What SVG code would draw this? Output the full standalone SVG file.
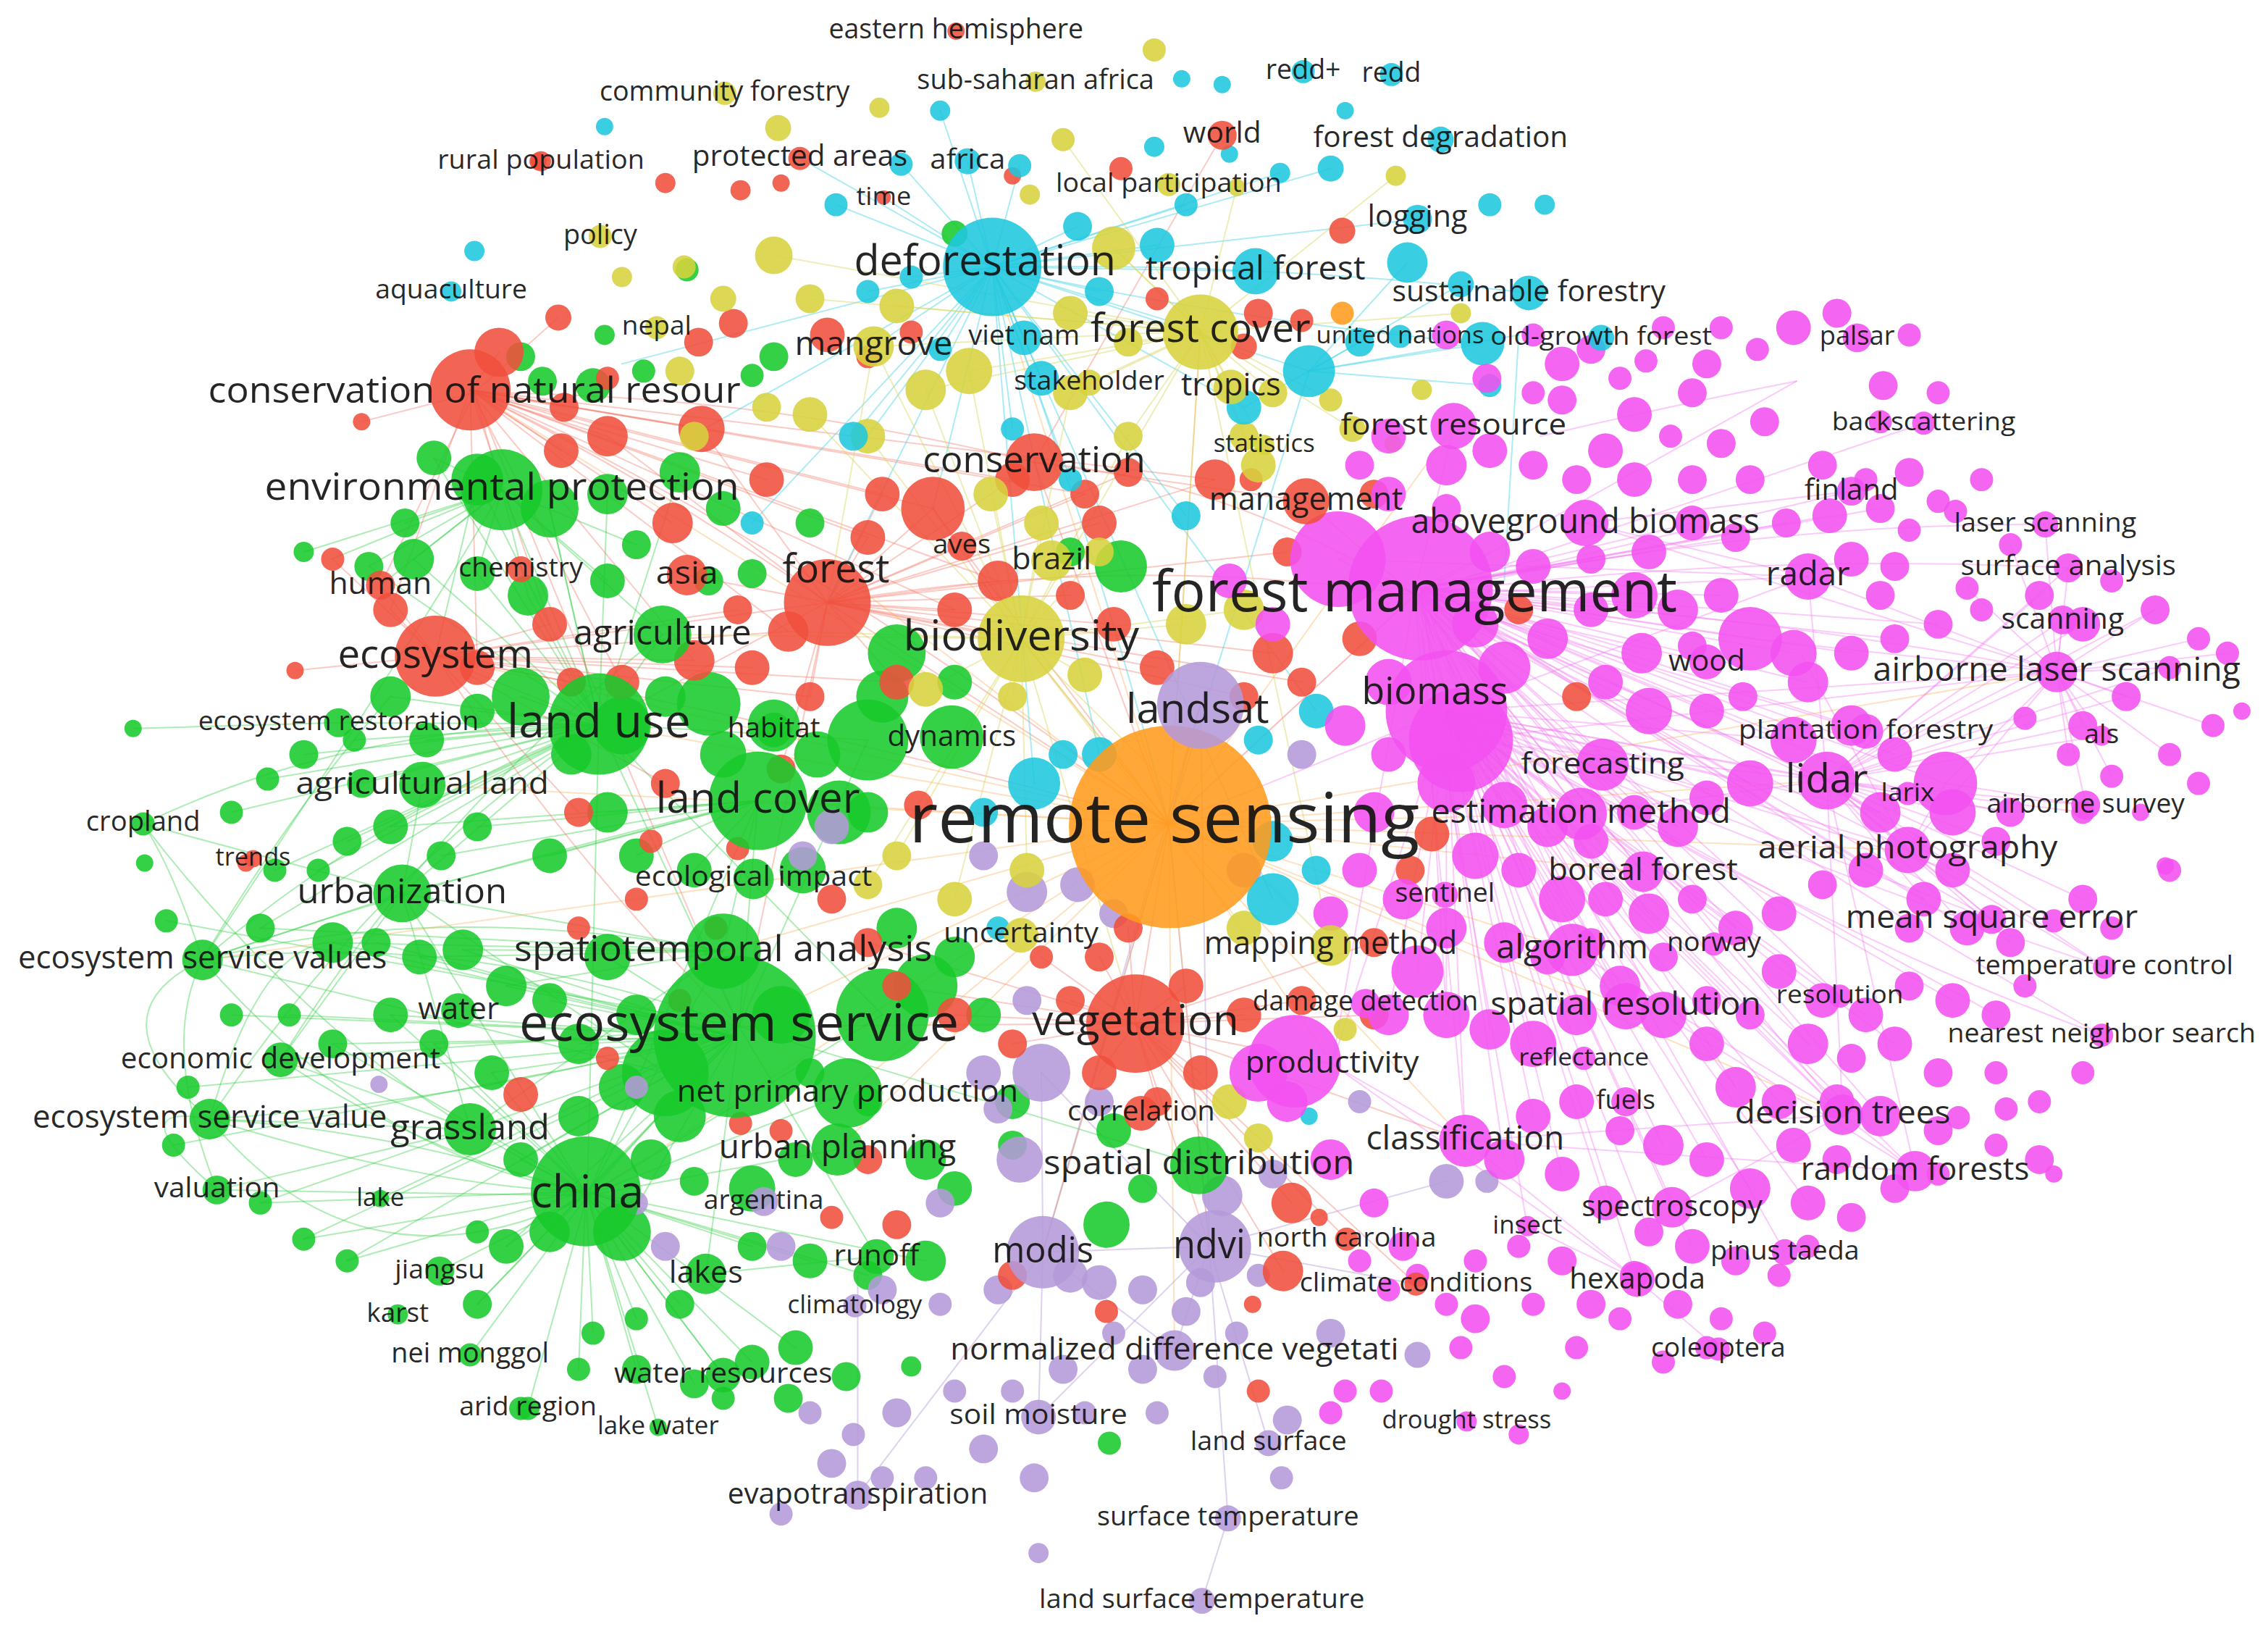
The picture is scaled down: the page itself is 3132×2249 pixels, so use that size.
<svg xmlns="http://www.w3.org/2000/svg" width="3132" height="2249" viewBox="0 0 3132 2249">
<style>
.lb{font-family:"Open Sans","Liberation Sans",sans-serif;fill:#121212;fill-opacity:.92;text-anchor:middle}
.r{fill:#f04e3c}.g{fill:#18c92b}.y{fill:#d7d33e}.c{fill:#1ec7de}.m{fill:#f251ef}.p{fill:#b49ad9}.o{fill:#ff9b1c}
circle{fill-opacity:.88}
</style>
<rect width="3132" height="2249" fill="#fff"/>
<g transform="scale(1.9974) translate(0 1.5)">
<g id="connectors" fill="none" stroke-linecap="round" stroke-width="1">
<g id="conn-green" stroke="#35cf45" stroke-opacity=".4">
<path d="M511 708Q320 640 140 662"/><path d="M511 708Q330 760 145 772"/><path d="M511 708L194 731"/><path d="M406 825Q280 780 145 772"/><path d="M406 825L150 821"/><path d="M406 825L304 877"/><path d="M406 825L325 935"/><path d="M406 825L365 972"/><path d="M406 825L500 949"/><path d="M406 825L455 985"/><path d="M414 499Q240 500 99 568"/><path d="M414 499L234 498"/><path d="M414 499L292 541"/><path d="M414 499Q260 560 140 662"/><path d="M278 616L140 662"/><path d="M278 616L99 568"/><path d="M278 616L194 731"/><path d="M325 779L145 772"/><path d="M325 779L150 821"/><path d="M500 656Q300 620 140 662"/><path d="M500 656L278 616"/><path d="M347 337L263 403"/><path d="M347 337L229 385"/><path d="M511 708L406 825"/><path d="M511 708L414 499"/><path d="M414 499L406 825"/><path d="M406 825L524 552"/><path d="M511 708L606 867"/><path d="M511 708L488 879"/><path d="M524 552L278 616"/><path d="M524 552Q320 600 140 662"/><path d="M406 825L325 779"/><path d="M325 779L194 731"/><path d="M511 708L263 827"/><path d="M414 499L347 337"/><path d="M511 708L115 635"/><path d="M140 662Q120 600 99 568"/><path d="M145 772Q60 700 140 662"/><path d="M150 821Q80 760 145 772"/><path d="M500 656L325 779"/><path d="M500 656L406 825"/><path d="M458 437L414 499"/><path d="M458 437L347 337"/><path d="M524 552L511 708"/><path d="M524 552L500 656"/><path d="M278 616L325 779"/><path d="M278 616L406 825"/><path d="M292 541L278 616"/><path d="M414 499L278 616"/><path d="M511 708L829 804"/><path d="M586 754L406 825"/><path d="M579 793L406 825"/><path d="M488 879L606 867"/><path d="M500 949L406 825"/><path d="M600 510L414 499"/><path d="M600 510L511 708"/><path d="M610 700L406 825"/><path d="M610 700L414 499"/><path d="M460 740L278 616"/><path d="M460 740L140 662"/><path d="M380 350L414 499"/><path d="M330 330L301 452"/><path d="M234 498L92 502"/><path d="M145 772Q260 600 414 499"/><path d="M194 731Q300 560 458 437"/><path d="M140 662Q300 420 347 337"/><path d="M145 772Q250 900 406 825"/>
<path d="M508 715L230 650"/><path d="M508 715L260 650"/><path d="M508 715L290 660"/><path d="M508 715L320 655"/><path d="M508 715L350 680"/><path d="M508 715L270 700"/><path d="M508 715L230 720"/><path d="M508 715L200 700"/><path d="M508 715L160 700"/><path d="M508 715L130 750"/><path d="M508 715L120 790"/><path d="M508 715L180 830"/><path d="M508 715L210 855"/><path d="M508 715L240 870"/><path d="M508 715L330 900"/><path d="M508 715L350 860"/><path d="M508 715L380 850"/><path d="M508 715L430 850"/><path d="M508 715L360 800"/><path d="M508 715L340 740"/><path d="M508 715L300 720"/><path d="M508 715L420 660"/><path d="M508 715L380 690"/><path d="M508 715L440 700"/><path d="M508 715L400 720"/>
<path d="M405 822L230 720"/><path d="M405 822L270 700"/><path d="M405 822L300 720"/><path d="M405 822L340 740"/><path d="M405 822L360 800"/><path d="M405 822L330 900"/><path d="M405 822L350 860"/><path d="M405 822L240 870"/><path d="M405 822L210 855"/><path d="M405 822L180 830"/><path d="M405 822L440 910"/><path d="M405 822L410 920"/><path d="M405 822L400 945"/><path d="M405 822L440 945"/><path d="M405 822L480 955"/><path d="M405 822L520 940"/><path d="M405 822L470 900"/><path d="M405 822L520 860"/><path d="M405 822L560 870"/><path d="M405 822L600 880"/><path d="M405 822L640 870"/><path d="M405 822L550 930"/>
<path d="M414 499L270 480"/><path d="M414 499L245 510"/><path d="M414 499L250 540"/><path d="M414 499L295 510"/><path d="M414 499L330 490"/><path d="M414 499L360 480"/><path d="M414 499L270 570"/><path d="M414 499L240 580"/><path d="M414 499L210 520"/><path d="M414 499L185 537"/><path d="M414 499L160 560"/><path d="M414 499L220 600"/><path d="M414 499L190 600"/><path d="M414 499L180 640"/><path d="M414 499L300 315"/><path d="M414 499L330 330"/><path d="M414 499L380 350"/><path d="M414 499L420 340"/><path d="M414 499L470 325"/><path d="M414 499L286 385"/><path d="M414 499L255 390"/><path d="M414 499L330 395"/><path d="M414 499L365 410"/>
<path d="M524 552L380 590"/><path d="M524 552L330 570"/><path d="M524 552L305 590"/><path d="M524 552L270 570"/><path d="M524 552L440 590"/><path d="M524 552L480 600"/><path d="M524 552L420 560"/>
<path d="M347 337L300 315"/><path d="M347 337L280 360"/><path d="M347 337L255 390"/><path d="M347 337L286 385"/><path d="M347 337L330 395"/><path d="M347 337L365 410"/><path d="M347 337L420 400"/><path d="M347 337L440 375"/><path d="M347 337L210 380"/>
<path d="M500 656L230 650"/><path d="M500 656L290 660"/><path d="M500 656L320 655"/><path d="M500 656L350 680"/><path d="M500 656L180 640"/>
<path d="M140 662Q200 560 270 480"/><path d="M145 772Q180 650 230 650"/><path d="M150 821Q110 720 140 662"/><path d="M99 568Q200 700 325 779"/><path d="M140 662Q260 800 405 822"/><path d="M145 772Q300 820 405 822"/><path d="M194 731Q300 800 405 822"/>
</g>
<g id="conn-red" stroke="#f06a58" stroke-opacity=".35">
<path d="M328 270Q450 330 572 415"/><path d="M328 270Q520 270 715 318"/><path d="M328 270Q560 380 808 568"/><path d="M328 270L263 403"/><path d="M328 270L420 300"/><path d="M328 270L645 350"/><path d="M328 270Q420 500 511 708"/><path d="M301 452Q400 600 511 708"/><path d="M301 452Q560 500 808 568"/><path d="M301 452L572 415"/><path d="M301 452L204 462"/><path d="M301 452L263 403"/><path d="M572 415L808 568"/><path d="M572 415Q780 380 978 410"/><path d="M715 318L808 568"/><path d="M715 318Q850 330 978 410"/><path d="M785 706L808 568"/><path d="M785 706L921 734"/><path d="M785 706L836 860"/><path d="M785 706L1013 787"/><path d="M572 415L706 440"/><path d="M328 270L250 290"/><path d="M301 452L230 385"/><path d="M328 270L386 218"/><path d="M715 318L845 92"/><path d="M715 318L903 345"/><path d="M785 706L931 855"/><path d="M785 706L979 886"/><path d="M645 350L572 415"/><path d="M645 350L808 568"/><path d="M475 396L572 415"/><path d="M485 295L572 415"/><path d="M420 300L572 415"/><path d="M785 706L511 708"/><path d="M572 415L414 499"/><path d="M572 415L511 708"/><path d="M328 270L347 337"/><path d="M301 452L414 499"/><path d="M645 350L706 440"/><path d="M903 345L978 410"/>
<path d="M325 268L345 242"/><path d="M325 268L390 280"/><path d="M325 268L388 310"/><path d="M325 268L485 295"/><path d="M325 268L530 330"/><path d="M325 268L465 360"/><path d="M325 268L270 420"/><path d="M325 268L330 460"/><path d="M325 268L380 430"/><path d="M325 268L430 470"/><path d="M325 268L480 455"/><path d="M325 268L545 435"/><path d="M325 268L600 370"/><path d="M325 268L610 340"/><path d="M325 268L700 330"/><path d="M325 268L750 340"/><path d="M325 268L840 330"/><path d="M325 268L660 420"/><path d="M325 268L690 400"/>
<path d="M301 452L270 420"/><path d="M301 452L330 460"/><path d="M301 452L380 430"/><path d="M301 452L395 470"/><path d="M301 452L430 470"/><path d="M301 452L480 455"/><path d="M301 452L510 420"/><path d="M301 452L520 460"/><path d="M301 452L545 435"/><path d="M301 452L560 480"/><path d="M301 452L620 470"/><path d="M301 452L400 560"/><path d="M301 452L460 540"/>
<path d="M572 415L600 370"/><path d="M572 415L610 340"/><path d="M572 415L660 420"/><path d="M572 415L690 400"/><path d="M572 415L740 410"/><path d="M572 415L770 430"/><path d="M572 415L800 460"/><path d="M572 415L880 450"/><path d="M572 415L900 470"/><path d="M572 415L860 480"/><path d="M572 415L620 470"/><path d="M572 415L560 480"/><path d="M572 415L540 530"/><path d="M572 415L760 360"/><path d="M572 415L700 330"/><path d="M572 415L750 340"/><path d="M572 415L780 325"/><path d="M572 415L840 330"/><path d="M572 415L890 380"/>
<path d="M785 706L760 740"/><path d="M785 706L800 760"/><path d="M785 706L830 740"/><path d="M785 706L760 660"/><path d="M785 706L720 660"/><path d="M785 706L740 690"/><path d="M785 706L700 720"/><path d="M785 706L660 700"/><path d="M785 706L620 680"/><path d="M785 706L600 650"/><path d="M785 706L860 700"/><path d="M785 706L900 690"/><path d="M785 706L950 700"/><path d="M785 706L950 650"/><path d="M785 706L893 830"/><path d="M785 706L887 877"/><path d="M785 706L820 680"/><path d="M785 706L780 640"/>
</g>
<g id="conn-cyan" stroke="#48d3e6" stroke-opacity=".45">
<path d="M686 183L600 300"/><path d="M686 183L520 360"/><path d="M686 183L700 295"/><path d="M686 183L740 330"/><path d="M686 183Q760 380 808 568"/><path d="M686 183L905 255"/><path d="M686 183Q850 220 1025 236"/><path d="M686 183Q870 180 1057 201"/><path d="M686 183L980 150"/><path d="M686 183L669 110"/><path d="M686 183L611 135"/><path d="M686 183L820 355"/><path d="M686 183L715 540"/><path d="M686 183L880 620"/><path d="M686 183L478 300"/><path d="M686 183L430 250"/><path d="M905 255L1050 230"/><path d="M905 255L973 180"/><path d="M686 183L868 186"/><path d="M686 183L760 520"/><path d="M686 183L910 490"/><path d="M686 183L590 300"/><path d="M686 183L645 350"/><path d="M686 183L572 415"/><path d="M686 183L830 227"/><path d="M1050 230L1040 400"/><path d="M686 183L553 108"/><path d="M905 255L808 568"/><path d="M686 183L708 232"/><path d="M686 183L604 238"/>
<path d="M686 183L745 155"/><path d="M686 183L800 168"/><path d="M686 183L820 140"/><path d="M686 183L705 113"/><path d="M686 183L623 112"/><path d="M686 183L578 140"/><path d="M686 183L650 75"/><path d="M686 183L760 200"/><path d="M686 183L720 260"/><path d="M686 183L650 240"/><path d="M686 183L600 200"/><path d="M686 183L630 190"/><path d="M686 183L860 280"/><path d="M686 183L920 115"/><path d="M686 183L885 118"/><path d="M905 255L1025 236"/><path d="M905 255L1030 265"/><path d="M905 255L940 235"/><path d="M905 255L860 280"/><path d="M905 255L1010 195"/>
</g>
<g id="conn-yellow" stroke="#dad664" stroke-opacity=".45">
<path d="M830 227L808 568"/><path d="M830 227L706 440"/><path d="M830 227L851 266"/><path d="M830 227L753 263"/><path d="M830 227L604 238"/><path d="M830 227L874 306"/><path d="M706 440L808 568"/><path d="M706 440L604 238"/><path d="M706 440L920 652"/><path d="M830 227L735 95"/><path d="M830 227L920 652"/><path d="M706 440L545 435"/><path d="M604 238L572 415"/><path d="M770 170L830 227"/><path d="M706 440L458 437"/><path d="M706 440L785 706"/>
<path d="M706 440L685 340"/><path d="M706 440L720 360"/><path d="M706 440L760 380"/><path d="M706 440L820 430"/><path d="M706 440L700 480"/><path d="M706 440L750 465"/><path d="M706 440L640 475"/><path d="M706 440L600 610"/><path d="M706 440L660 620"/><path d="M706 440L710 600"/><path d="M706 440L620 590"/><path d="M706 440L860 640"/><path d="M706 440L860 420"/><path d="M706 440L600 300"/><path d="M706 440L560 285"/><path d="M706 440L640 268"/><path d="M706 440L670 255"/><path d="M706 440L740 270"/><path d="M706 440L780 300"/>
<path d="M830 228L740 215"/><path d="M830 228L780 235"/><path d="M830 228L740 270"/><path d="M830 228L780 300"/><path d="M830 228L870 320"/><path d="M830 228L860 300"/><path d="M830 228L935 295"/><path d="M830 228L920 275"/><path d="M830 228L880 270"/><path d="M830 228L770 170"/><path d="M830 228L620 210"/><path d="M830 228L670 255"/><path d="M830 228L640 268"/><path d="M830 228L560 205"/><path d="M830 228L535 175"/><path d="M830 228L855 128"/><path d="M830 228L965 120"/><path d="M830 228L1010 215"/>
</g>
<g id="conn-magenta" stroke="#f37cef" stroke-opacity=".4">
<path d="M978 410L1250 397"/><path d="M978 410Q1200 420 1422 463"/><path d="M978 410Q1200 380 1430 391"/><path d="M978 410Q1200 360 1414 361"/><path d="M978 410L1280 338"/><path d="M978 410L1242 262"/><path d="M978 410L1330 291"/><path d="M978 410L1005 293"/><path d="M978 410L1263 538"/><path d="M978 410L1319 586"/><path d="M978 410L1377 634"/><path d="M978 410L1274 769"/><path d="M978 410L1013 787"/><path d="M978 410L921 734"/><path d="M978 410L808 568"/><path d="M978 410L1093 561"/><path d="M978 410L1136 601"/><path d="M978 410L1087 655"/><path d="M978 410L1124 694"/><path d="M978 410L1180 456"/><path d="M978 410L1290 504"/><path d="M978 410L1108 527"/><path d="M1000 490L1263 538"/><path d="M1000 490L1422 463"/><path d="M1000 490L1319 586"/><path d="M1000 490L1377 634"/><path d="M1000 490Q1250 600 1455 667"/><path d="M1000 490Q1250 640 1453 714"/><path d="M1000 490L1274 769"/><path d="M1000 490L1324 808"/><path d="M1000 490L1156 833"/><path d="M1000 490L1013 787"/><path d="M1000 490L921 734"/><path d="M1000 490L808 568"/><path d="M1000 490L1250 397"/><path d="M1000 490L1087 655"/><path d="M1000 490L1124 694"/><path d="M1263 538L1422 463"/><path d="M1263 538L1442 555"/><path d="M1263 538L1453 507"/><path d="M1263 538L1319 586"/><path d="M1263 538L1377 634"/><path d="M1263 538L1426 427"/><path d="M1263 538L1430 391"/><path d="M1263 538L1274 769"/><path d="M1263 538L1324 808"/><path d="M1263 538L1455 667"/><path d="M1422 463L1430 391"/><path d="M1422 463L1414 361"/><path d="M1422 463L1426 427"/><path d="M1422 463L1442 555"/><path d="M1422 463L1453 507"/><path d="M1422 463L1319 586"/><path d="M1096 360L1250 397"/><path d="M1096 360L1422 463"/><path d="M1096 360L1280 338"/><path d="M1242 262Q1150 280 1065 300"/><path d="M978 410L1056 846"/><path d="M978 410L1132 883"/><path d="M978 410L1234 864"/><path d="M1132 883L1188 931"/><path d="M1132 883L1056 846"/><path d="M978 410L1272 687"/><path d="M978 410Q1250 600 1453 714"/><path d="M1013 787L1132 883"/><path d="M1013 787L1274 769"/><path d="M1013 787L1324 808"/><path d="M921 734L1013 787"/><path d="M921 734L1132 883"/><path d="M1250 397L1422 463"/><path d="M1250 397L1263 538"/><path d="M1319 586L1377 634"/><path d="M1319 586L1455 667"/><path d="M1274 769L1324 808"/><path d="M1274 769L1156 833"/><path d="M1093 561L1263 538"/><path d="M1093 561L1136 601"/><path d="M1087 655L1124 694"/><path d="M1087 655L1274 769"/><path d="M925 385L1250 397"/><path d="M925 385L1263 538"/><path d="M1010 510L1263 538"/><path d="M1010 510L1422 463"/><path d="M1010 510L1274 769"/><path d="M1150 700L1324 808"/><path d="M1210 440L1422 463"/><path d="M1245 450L1319 586"/><path d="M1345 540L1442 555"/><path d="M1345 540L1422 463"/><path d="M1345 540L1319 586"/>
<path d="M982 405L1030 380"/><path d="M982 405L1060 390"/><path d="M982 405L1100 385"/><path d="M982 405L1140 380"/><path d="M982 405L1170 360"/><path d="M982 405L1200 370"/><path d="M982 405L1235 360"/><path d="M982 405L1265 355"/><path d="M982 405L1300 350"/><path d="M982 405L1130 410"/><path d="M982 405L1160 420"/><path d="M982 405L1190 410"/><path d="M982 405L1210 440"/><path d="M982 405L1240 450"/><path d="M982 405L1280 450"/><path d="M982 405L1310 440"/><path d="M982 405L1340 430"/><path d="M982 405L1070 440"/><path d="M982 405L1100 420"/><path d="M982 405L1135 450"/><path d="M982 405L1140 490"/><path d="M982 405L1180 490"/><path d="M982 405L1250 470"/><path d="M982 405L1280 500"/><path d="M982 405L1310 520"/><path d="M982 405L1345 540"/><path d="M982 405L1350 560"/><path d="M982 405L1300 560"/><path d="M982 405L1240 510"/><path d="M982 405L1210 540"/><path d="M982 405L1160 570"/><path d="M982 405L1130 560"/><path d="M982 405L1070 570"/><path d="M982 405L1040 555"/><path d="M982 405L1020 590"/><path d="M982 405L1080 620"/><path d="M982 405L1140 630"/><path d="M982 405L1200 640"/><path d="M982 405L1230 630"/><path d="M982 405L1290 600"/><path d="M982 405L1330 620"/><path d="M982 405L1360 640"/><path d="M982 405L1000 700"/><path d="M982 405L1030 710"/><path d="M982 405L1060 720"/><path d="M982 405L1090 700"/><path d="M982 405L1150 700"/><path d="M982 405L1200 750"/><path d="M982 405L1250 720"/><path d="M982 405L1300 770"/><path d="M982 405L1040 800"/>
<path d="M1000 490L1040 555"/><path d="M1000 490L1070 570"/><path d="M1000 490L1100 580"/><path d="M1000 490L1160 570"/><path d="M1000 490L1210 540"/><path d="M1000 490L1240 510"/><path d="M1000 490L1300 560"/><path d="M1000 490L1350 600"/><path d="M1000 490L1390 560"/><path d="M1000 490L1200 640"/><path d="M1000 490L1260 690"/><path d="M1000 490L1290 700"/><path d="M1000 490L1350 690"/><path d="M1000 490L1380 700"/><path d="M1000 490L1250 720"/><path d="M1000 490L1310 720"/><path d="M1000 490L1230 760"/><path d="M1000 490L1270 760"/><path d="M1000 490L1200 750"/><path d="M1000 490L1150 790"/><path d="M1000 490L1180 800"/><path d="M1000 490L1210 820"/><path d="M1000 490L1250 830"/><path d="M1000 490L1080 810"/><path d="M1000 490L1110 830"/><path d="M1000 490L1140 850"/><path d="M1000 490L1170 860"/><path d="M1000 490L1060 770"/><path d="M1000 490L1000 700"/><path d="M1000 490L980 670"/><path d="M1000 490L960 700"/>
<path d="M1263 538L1350 560"/><path d="M1263 538L1390 560"/><path d="M1263 538L1440 500"/><path d="M1263 538L1470 480"/><path d="M1263 538L1440 430"/><path d="M1263 538L1410 410"/><path d="M1263 538L1490 420"/><path d="M1263 538L1500 460"/><path d="M1263 538L1440 560"/><path d="M1263 538L1380 580"/><path d="M1263 538L1350 600"/><path d="M1263 538L1420 635"/><path d="M1263 538L1440 620"/><path d="M1263 538L1390 650"/><path d="M1263 538L1360 640"/><path d="M1263 538L1330 620"/>
<path d="M1422 463L1490 420"/><path d="M1422 463L1520 440"/><path d="M1422 463L1540 450"/><path d="M1422 463L1500 460"/><path d="M1422 463L1470 480"/><path d="M1422 463L1440 500"/><path d="M1422 463L1430 520"/><path d="M1422 463L1460 535"/><path d="M1422 463L1500 520"/><path d="M1422 463L1530 500"/><path d="M1422 463L1390 375"/><path d="M1422 463L1360 405"/>
</g>
<g id="conn-purple" stroke="#bba3de" stroke-opacity=".5">
<path d="M836 860L812 932"/><path d="M836 860L877 996"/><path d="M836 860L718 978"/><path d="M836 860L849 1048"/><path d="M836 860L808 568"/><path d="M721 864L593 1032"/><path d="M721 864L718 978"/><path d="M721 864L812 932"/><path d="M721 864L808 568"/><path d="M830 485L808 568"/><path d="M830 485L836 860"/><path d="M830 485L721 864"/><path d="M593 880L593 1032"/><path d="M849 1048L831 1105"/><path d="M836 860L979 886"/><path d="M721 864L836 860"/><path d="M720 740L836 860"/><path d="M720 740L721 864"/><path d="M836 860L1000 815"/>
</g>
<g id="conn-orange" stroke="#f8a94a" stroke-opacity=".35">
<path d="M808 568L1263 538"/><path d="M808 568L511 708"/><path d="M808 568L414 499"/><path d="M808 568L406 825"/><path d="M808 568L978 410"/><path d="M808 568L686 183"/><path d="M808 568L830 227"/><path d="M808 568L1013 787"/><path d="M808 568L921 734"/><path d="M808 568L1093 561"/><path d="M808 568L1136 601"/><path d="M808 568L1087 655"/><path d="M808 568L1319 586"/><path d="M808 568L524 552"/><path d="M808 568L500 656"/><path d="M808 568L836 860"/><path d="M808 568L721 864"/><path d="M808 568L706 440"/><path d="M808 568L578 393"/><path d="M808 568L1422 463"/><path d="M808 568L301 452"/><path d="M808 568L328 270"/><path d="M808 568L140 662"/><path d="M808 568L292 541"/><path d="M808 568L586 754"/><path d="M808 568L579 793"/><path d="M808 568L812 932"/><path d="M808 568L1124 694"/><path d="M808 568L1274 769"/><path d="M808 568L1005 293"/>
</g>
</g>
<g id="minor-nodes">
<g id="minor-green" class="g">
<circle cx="475" cy="185" r="8"/><circle cx="535" cy="245" r="10"/><circle cx="520" cy="258" r="8"/><circle cx="418" cy="230" r="7"/><circle cx="445" cy="255" r="8"/><circle cx="360" cy="245" r="10"/><circle cx="375" cy="262" r="10"/><circle cx="410" cy="265" r="12"/><circle cx="300" cy="315" r="12"/><circle cx="330" cy="330" r="18"/><circle cx="380" cy="350" r="20"/><circle cx="420" cy="340" r="14"/><circle cx="470" cy="325" r="14"/><circle cx="500" cy="350" r="12"/><circle cx="280" cy="360" r="10"/><circle cx="255" cy="390" r="10"/><circle cx="286" cy="385" r="14"/><circle cx="210" cy="380" r="7"/><circle cx="330" cy="395" r="12"/><circle cx="365" cy="410" r="14"/><circle cx="420" cy="400" r="12"/><circle cx="440" cy="375" r="10"/><circle cx="490" cy="400" r="10"/><circle cx="520" cy="395" r="10"/><circle cx="560" cy="360" r="10"/><circle cx="270" cy="480" r="14"/><circle cx="245" cy="510" r="8"/><circle cx="250" cy="540" r="10"/><circle cx="295" cy="510" r="12"/><circle cx="330" cy="490" r="12"/><circle cx="360" cy="480" r="20"/><circle cx="395" cy="520" r="14"/><circle cx="430" cy="500" r="20"/><circle cx="460" cy="480" r="14"/><circle cx="490" cy="485" r="22"/><circle cx="500" cy="520" r="16"/><circle cx="535" cy="500" r="18"/><circle cx="565" cy="520" r="16"/><circle cx="600" cy="510" r="28"/><circle cx="620" cy="450" r="20"/><circle cx="610" cy="480" r="18"/><circle cx="580" cy="560" r="22"/><circle cx="600" cy="560" r="14"/><circle cx="555" cy="600" r="16"/><circle cx="480" cy="600" r="12"/><circle cx="440" cy="590" r="12"/><circle cx="420" cy="560" r="14"/><circle cx="380" cy="590" r="12"/><circle cx="330" cy="570" r="10"/><circle cx="305" cy="590" r="10"/><circle cx="270" cy="570" r="12"/><circle cx="240" cy="580" r="10"/><circle cx="220" cy="600" r="8"/><circle cx="190" cy="600" r="8"/><circle cx="180" cy="640" r="10"/><circle cx="115" cy="635" r="8"/><circle cx="100" cy="595" r="6"/><circle cx="92" cy="502" r="6"/><circle cx="160" cy="560" r="8"/><circle cx="185" cy="537" r="8"/><circle cx="210" cy="520" r="10"/><circle cx="230" cy="650" r="14"/><circle cx="260" cy="650" r="10"/><circle cx="290" cy="660" r="12"/><circle cx="320" cy="655" r="14"/><circle cx="350" cy="680" r="14"/><circle cx="380" cy="690" r="12"/><circle cx="420" cy="660" r="16"/><circle cx="440" cy="700" r="14"/><circle cx="400" cy="720" r="14"/><circle cx="460" cy="740" r="30"/><circle cx="470" cy="770" r="18"/><circle cx="430" cy="750" r="16"/><circle cx="400" cy="770" r="14"/><circle cx="360" cy="800" r="12"/><circle cx="340" cy="740" r="12"/><circle cx="300" cy="720" r="10"/><circle cx="270" cy="700" r="12"/><circle cx="230" cy="720" r="10"/><circle cx="200" cy="700" r="8"/><circle cx="160" cy="700" r="8"/><circle cx="130" cy="750" r="8"/><circle cx="120" cy="790" r="8"/><circle cx="180" cy="830" r="8"/><circle cx="210" cy="855" r="8"/><circle cx="240" cy="870" r="8"/><circle cx="330" cy="900" r="10"/><circle cx="350" cy="860" r="12"/><circle cx="380" cy="850" r="14"/><circle cx="430" cy="850" r="20"/><circle cx="450" cy="800" r="14"/><circle cx="480" cy="815" r="10"/><circle cx="520" cy="820" r="16"/><circle cx="550" cy="800" r="12"/><circle cx="600" cy="760" r="10"/><circle cx="560" cy="740" r="10"/><circle cx="540" cy="700" r="20"/><circle cx="610" cy="700" r="32"/><circle cx="640" cy="680" r="22"/><circle cx="620" cy="640" r="14"/><circle cx="660" cy="660" r="14"/><circle cx="680" cy="700" r="12"/><circle cx="700" cy="760" r="12"/><circle cx="700" cy="790" r="10"/><circle cx="640" cy="800" r="14"/><circle cx="660" cy="820" r="12"/><circle cx="640" cy="870" r="14"/><circle cx="600" cy="880" r="10"/><circle cx="560" cy="870" r="12"/><circle cx="520" cy="860" r="10"/><circle cx="470" cy="900" r="10"/><circle cx="440" cy="910" r="8"/><circle cx="410" cy="920" r="8"/><circle cx="400" cy="945" r="8"/><circle cx="440" cy="945" r="10"/><circle cx="480" cy="955" r="10"/><circle cx="520" cy="940" r="12"/><circle cx="550" cy="930" r="12"/><circle cx="585" cy="950" r="10"/><circle cx="545" cy="965" r="10"/><circle cx="500" cy="965" r="8"/><circle cx="360" cy="972" r="8"/><circle cx="765" cy="845" r="16"/><circle cx="770" cy="780" r="12"/><circle cx="790" cy="820" r="10"/><circle cx="767" cy="996" r="8"/><circle cx="630" cy="943" r="7"/><circle cx="775" cy="390" r="18"/><circle cx="740" cy="380" r="10"/><circle cx="660" cy="470" r="12"/><circle cx="330" cy="850" r="8"/><circle cx="660" cy="160" r="9"/>
</g>
<g id="minor-purple" class="p">
<circle cx="555" cy="590" r="10"/><circle cx="575" cy="570" r="12"/><circle cx="710" cy="615" r="14"/><circle cx="770" cy="630" r="10"/><circle cx="745" cy="610" r="12"/><circle cx="720" cy="740" r="20"/><circle cx="705" cy="800" r="16"/><circle cx="690" cy="765" r="10"/><circle cx="760" cy="760" r="10"/><circle cx="680" cy="740" r="12"/><circle cx="760" cy="885" r="12"/><circle cx="790" cy="890" r="10"/><circle cx="845" cy="825" r="14"/><circle cx="880" cy="810" r="10"/><circle cx="870" cy="880" r="8"/><circle cx="830" cy="885" r="10"/><circle cx="740" cy="880" r="12"/><circle cx="690" cy="890" r="10"/><circle cx="650" cy="900" r="8"/><circle cx="610" cy="890" r="10"/><circle cx="540" cy="860" r="10"/><circle cx="460" cy="860" r="10"/><circle cx="440" cy="830" r="8"/><circle cx="440" cy="750" r="8"/><circle cx="262" cy="748" r="6"/><circle cx="650" cy="830" r="10"/><circle cx="770" cy="920" r="8"/><circle cx="790" cy="945" r="10"/><circle cx="735" cy="945" r="10"/><circle cx="700" cy="960" r="8"/><circle cx="660" cy="960" r="8"/><circle cx="620" cy="975" r="10"/><circle cx="590" cy="990" r="8"/><circle cx="560" cy="975" r="8"/><circle cx="575" cy="1010" r="10"/><circle cx="610" cy="1020" r="8"/><circle cx="640" cy="1020" r="8"/><circle cx="680" cy="1000" r="10"/><circle cx="715" cy="1020" r="10"/><circle cx="750" cy="975" r="8"/><circle cx="800" cy="975" r="8"/><circle cx="840" cy="950" r="8"/><circle cx="890" cy="980" r="10"/><circle cx="886" cy="1020" r="8"/><circle cx="718" cy="1072" r="7"/><circle cx="920" cy="920" r="10"/><circle cx="940" cy="760" r="8"/><circle cx="1000" cy="815" r="12"/><circle cx="855" cy="920" r="8"/><circle cx="820" cy="905" r="10"/><circle cx="900" cy="520" r="10"/><circle cx="710" cy="690" r="10"/><circle cx="680" cy="590" r="10"/><circle cx="860" cy="600" r="12"/><circle cx="1028" cy="815" r="8"/><circle cx="980" cy="935" r="9"/><circle cx="540" cy="1045" r="8"/>
</g>
<g id="minor-red" class="r">
<circle cx="372" cy="110" r="6"/><circle cx="460" cy="125" r="7"/><circle cx="512" cy="130" r="7"/><circle cx="540" cy="125" r="6"/><circle cx="775" cy="115" r="8"/><circle cx="928" cy="158" r="9"/><circle cx="386" cy="218" r="9"/><circle cx="420" cy="260" r="8"/><circle cx="483" cy="235" r="10"/><circle cx="507" cy="222" r="10"/><circle cx="572" cy="230" r="12"/><circle cx="600" cy="245" r="8"/><circle cx="630" cy="228" r="8"/><circle cx="700" cy="120" r="6"/><circle cx="800" cy="205" r="8"/><circle cx="860" cy="238" r="9"/><circle cx="870" cy="215" r="10"/><circle cx="900" cy="220" r="8"/><circle cx="345" cy="242" r="17"/><circle cx="390" cy="280" r="10"/><circle cx="388" cy="310" r="12"/><circle cx="420" cy="300" r="14"/><circle cx="485" cy="295" r="16"/><circle cx="530" cy="330" r="12"/><circle cx="465" cy="360" r="14"/><circle cx="610" cy="340" r="12"/><circle cx="645" cy="350" r="22"/><circle cx="700" cy="330" r="12"/><circle cx="750" cy="340" r="10"/><circle cx="780" cy="325" r="10"/><circle cx="840" cy="330" r="14"/><circle cx="950" cy="340" r="10"/><circle cx="890" cy="380" r="10"/><circle cx="865" cy="330" r="8"/><circle cx="250" cy="290" r="6"/><circle cx="230" cy="385" r="8"/><circle cx="204" cy="462" r="6"/><circle cx="270" cy="420" r="12"/><circle cx="330" cy="460" r="12"/><circle cx="380" cy="430" r="12"/><circle cx="395" cy="470" r="10"/><circle cx="430" cy="470" r="12"/><circle cx="480" cy="455" r="14"/><circle cx="510" cy="420" r="10"/><circle cx="520" cy="460" r="12"/><circle cx="545" cy="435" r="14"/><circle cx="600" cy="370" r="12"/><circle cx="660" cy="420" r="12"/><circle cx="690" cy="400" r="14"/><circle cx="740" cy="410" r="10"/><circle cx="770" cy="430" r="12"/><circle cx="800" cy="460" r="12"/><circle cx="880" cy="450" r="14"/><circle cx="900" cy="470" r="10"/><circle cx="860" cy="480" r="10"/><circle cx="620" cy="470" r="12"/><circle cx="560" cy="480" r="10"/><circle cx="760" cy="360" r="12"/><circle cx="540" cy="530" r="10"/><circle cx="460" cy="540" r="10"/><circle cx="400" cy="560" r="10"/><circle cx="440" cy="620" r="8"/><circle cx="400" cy="640" r="8"/><circle cx="495" cy="640" r="8"/><circle cx="575" cy="620" r="10"/><circle cx="600" cy="650" r="10"/><circle cx="620" cy="680" r="10"/><circle cx="660" cy="700" r="12"/><circle cx="700" cy="720" r="10"/><circle cx="740" cy="690" r="10"/><circle cx="760" cy="740" r="12"/><circle cx="800" cy="760" r="10"/><circle cx="830" cy="740" r="12"/><circle cx="760" cy="660" r="10"/><circle cx="720" cy="660" r="8"/><circle cx="360" cy="755" r="12"/><circle cx="420" cy="730" r="8"/><circle cx="470" cy="690" r="8"/><circle cx="512" cy="775" r="8"/><circle cx="600" cy="800" r="10"/><circle cx="620" cy="845" r="10"/><circle cx="575" cy="840" r="8"/><circle cx="700" cy="880" r="10"/><circle cx="765" cy="905" r="8"/><circle cx="893" cy="830" r="14"/><circle cx="887" cy="877" r="14"/><circle cx="870" cy="960" r="8"/><circle cx="866" cy="900" r="6"/><circle cx="912" cy="840" r="6"/><circle cx="950" cy="700" r="10"/><circle cx="950" cy="650" r="10"/><circle cx="975" cy="600" r="10"/><circle cx="990" cy="575" r="12"/><circle cx="860" cy="700" r="12"/><circle cx="900" cy="690" r="10"/><circle cx="1050" cy="420" r="10"/><circle cx="940" cy="440" r="12"/><circle cx="1090" cy="480" r="10"/><circle cx="170" cy="595" r="6"/><circle cx="540" cy="780" r="8"/><circle cx="510" cy="585" r="8"/><circle cx="635" cy="555" r="10"/><circle cx="450" cy="580" r="8"/><circle cx="820" cy="680" r="12"/><circle cx="780" cy="640" r="10"/>
</g>
<g id="minor-yellow" class="y">
<circle cx="798" cy="33" r="8"/><circle cx="608" cy="73" r="7"/><circle cx="538" cy="87" r="9"/><circle cx="735" cy="95" r="8"/><circle cx="712" cy="133" r="7"/><circle cx="770" cy="170" r="15"/><circle cx="855" cy="128" r="6"/><circle cx="965" cy="120" r="7"/><circle cx="535" cy="175" r="13"/><circle cx="500" cy="205" r="9"/><circle cx="470" cy="255" r="10"/><circle cx="473" cy="183" r="8"/><circle cx="430" cy="190" r="7"/><circle cx="560" cy="205" r="10"/><circle cx="620" cy="210" r="12"/><circle cx="640" cy="268" r="14"/><circle cx="670" cy="255" r="16"/><circle cx="740" cy="215" r="12"/><circle cx="780" cy="235" r="10"/><circle cx="560" cy="285" r="12"/><circle cx="600" cy="300" r="12"/><circle cx="740" cy="270" r="12"/><circle cx="780" cy="300" r="10"/><circle cx="870" cy="320" r="12"/><circle cx="860" cy="300" r="10"/><circle cx="935" cy="295" r="9"/><circle cx="920" cy="275" r="8"/><circle cx="880" cy="270" r="10"/><circle cx="1010" cy="215" r="7"/><circle cx="983" cy="268" r="7"/><circle cx="480" cy="300" r="10"/><circle cx="530" cy="280" r="10"/><circle cx="860" cy="420" r="14"/><circle cx="850" cy="760" r="12"/><circle cx="870" cy="785" r="10"/><circle cx="685" cy="340" r="12"/><circle cx="720" cy="360" r="12"/><circle cx="760" cy="380" r="10"/><circle cx="820" cy="430" r="14"/><circle cx="700" cy="480" r="10"/><circle cx="750" cy="465" r="12"/><circle cx="640" cy="475" r="12"/><circle cx="600" cy="610" r="10"/><circle cx="660" cy="620" r="12"/><circle cx="710" cy="600" r="12"/><circle cx="620" cy="590" r="10"/><circle cx="860" cy="640" r="12"/><circle cx="930" cy="710" r="8"/><circle cx="963" cy="305" r="6"/>
</g>
<g id="minor-cyan" class="c">
<circle cx="650" cy="75" r="7"/><circle cx="817" cy="53" r="6"/><circle cx="845" cy="57" r="6"/><circle cx="798" cy="100" r="7"/><circle cx="705" cy="113" r="8"/><circle cx="623" cy="112" r="8"/><circle cx="578" cy="140" r="8"/><circle cx="745" cy="155" r="10"/><circle cx="800" cy="168" r="12"/><circle cx="820" cy="140" r="8"/><circle cx="850" cy="105" r="6"/><circle cx="885" cy="118" r="7"/><circle cx="920" cy="115" r="9"/><circle cx="930" cy="75" r="6"/><circle cx="1030" cy="140" r="8"/><circle cx="1068" cy="140" r="7"/><circle cx="973" cy="180" r="14"/><circle cx="1010" cy="195" r="9"/><circle cx="1025" cy="236" r="15"/><circle cx="905" cy="255" r="18"/><circle cx="940" cy="235" r="10"/><circle cx="700" cy="295" r="8"/><circle cx="590" cy="300" r="10"/><circle cx="520" cy="360" r="8"/><circle cx="820" cy="355" r="10"/><circle cx="740" cy="330" r="8"/><circle cx="760" cy="200" r="10"/><circle cx="650" cy="240" r="8"/><circle cx="600" cy="200" r="8"/><circle cx="910" cy="490" r="12"/><circle cx="870" cy="510" r="10"/><circle cx="715" cy="540" r="18"/><circle cx="760" cy="520" r="12"/><circle cx="735" cy="520" r="10"/><circle cx="880" cy="620" r="18"/><circle cx="880" cy="580" r="14"/><circle cx="910" cy="600" r="10"/><circle cx="680" cy="560" r="10"/><circle cx="1030" cy="265" r="8"/><circle cx="905" cy="770" r="6"/><circle cx="690" cy="640" r="8"/><circle cx="630" cy="190" r="8"/><circle cx="720" cy="260" r="12"/><circle cx="860" cy="280" r="12"/><circle cx="328" cy="172" r="7"/><circle cx="418" cy="86" r="6"/>
</g>
<g id="minor-magenta" class="m">
<circle cx="1000" cy="230" r="10"/><circle cx="1028" cy="260" r="10"/><circle cx="1060" cy="230" r="8"/><circle cx="1100" cy="240" r="10"/><circle cx="1138" cy="248" r="8"/><circle cx="1180" cy="250" r="10"/><circle cx="1215" cy="240" r="8"/><circle cx="1240" cy="225" r="12"/><circle cx="1270" cy="215" r="10"/><circle cx="1320" cy="230" r="8"/><circle cx="1302" cy="265" r="10"/><circle cx="1340" cy="270" r="8"/><circle cx="1170" cy="270" r="10"/><circle cx="1130" cy="285" r="12"/><circle cx="1080" cy="275" r="10"/><circle cx="1220" cy="290" r="10"/><circle cx="1190" cy="305" r="10"/><circle cx="1155" cy="300" r="8"/><circle cx="1110" cy="310" r="12"/><circle cx="1060" cy="320" r="10"/><circle cx="1030" cy="310" r="12"/><circle cx="1000" cy="320" r="14"/><circle cx="960" cy="300" r="12"/><circle cx="940" cy="320" r="10"/><circle cx="1090" cy="330" r="10"/><circle cx="1130" cy="330" r="12"/><circle cx="1170" cy="330" r="10"/><circle cx="1210" cy="330" r="10"/><circle cx="1260" cy="320" r="10"/><circle cx="1290" cy="330" r="8"/><circle cx="1320" cy="325" r="10"/><circle cx="1340" cy="345" r="8"/><circle cx="1300" cy="350" r="10"/><circle cx="1265" cy="355" r="12"/><circle cx="1235" cy="360" r="10"/><circle cx="1200" cy="370" r="10"/><circle cx="1170" cy="360" r="12"/><circle cx="1140" cy="380" r="12"/><circle cx="1100" cy="385" r="10"/><circle cx="1060" cy="390" r="12"/><circle cx="1030" cy="380" r="14"/><circle cx="925" cy="385" r="33"/><circle cx="1020" cy="430" r="16"/><circle cx="1040" cy="460" r="18"/><circle cx="1070" cy="440" r="14"/><circle cx="1100" cy="420" r="12"/><circle cx="1130" cy="410" r="16"/><circle cx="1160" cy="420" r="14"/><circle cx="1190" cy="410" r="12"/><circle cx="1210" cy="440" r="22"/><circle cx="1240" cy="450" r="16"/><circle cx="1170" cy="445" r="10"/><circle cx="1135" cy="450" r="14"/><circle cx="1110" cy="470" r="12"/><circle cx="1140" cy="490" r="16"/><circle cx="1180" cy="490" r="12"/><circle cx="1205" cy="480" r="10"/><circle cx="1250" cy="470" r="14"/><circle cx="1280" cy="450" r="12"/><circle cx="1310" cy="440" r="10"/><circle cx="1340" cy="430" r="10"/><circle cx="1370" cy="420" r="8"/><circle cx="1300" cy="410" r="10"/><circle cx="1280" cy="385" r="12"/><circle cx="1310" cy="390" r="10"/><circle cx="1320" cy="365" r="8"/><circle cx="1360" cy="405" r="8"/><circle cx="1390" cy="375" r="8"/><circle cx="1410" cy="410" r="10"/><circle cx="1440" cy="430" r="12"/><circle cx="1460" cy="400" r="8"/><circle cx="1490" cy="420" r="10"/><circle cx="1520" cy="440" r="8"/><circle cx="1500" cy="460" r="8"/><circle cx="1470" cy="480" r="10"/><circle cx="1400" cy="495" r="8"/><circle cx="1440" cy="500" r="10"/><circle cx="1430" cy="520" r="8"/><circle cx="1460" cy="535" r="8"/><circle cx="1500" cy="600" r="8"/><circle cx="1480" cy="560" r="6"/><circle cx="1540" cy="450" r="8"/><circle cx="1390" cy="560" r="10"/><circle cx="1380" cy="580" r="10"/><circle cx="1350" cy="600" r="12"/><circle cx="1330" cy="620" r="12"/><circle cx="1350" cy="560" r="16"/><circle cx="1345" cy="540" r="22"/><circle cx="1300" cy="560" r="14"/><circle cx="1310" cy="520" r="12"/><circle cx="1280" cy="500" r="14"/><circle cx="1240" cy="510" r="16"/><circle cx="1210" cy="540" r="16"/><circle cx="1180" cy="550" r="12"/><circle cx="1160" cy="570" r="14"/><circle cx="1130" cy="560" r="12"/><circle cx="1100" cy="580" r="12"/><circle cx="1070" cy="570" r="14"/><circle cx="1040" cy="555" r="16"/><circle cx="1020" cy="590" r="16"/><circle cx="1050" cy="600" r="12"/><circle cx="1080" cy="620" r="16"/><circle cx="1110" cy="620" r="12"/><circle cx="1140" cy="630" r="14"/><circle cx="1170" cy="620" r="10"/><circle cx="1200" cy="640" r="12"/><circle cx="1230" cy="630" r="12"/><circle cx="1260" cy="610" r="10"/><circle cx="1290" cy="600" r="12"/><circle cx="1320" cy="640" r="10"/><circle cx="1360" cy="640" r="12"/><circle cx="1390" cy="650" r="10"/><circle cx="1420" cy="635" r="8"/><circle cx="1440" cy="620" r="10"/><circle cx="1460" cy="640" r="8"/><circle cx="1400" cy="680" r="8"/><circle cx="1380" cy="700" r="10"/><circle cx="1350" cy="690" r="12"/><circle cx="1320" cy="680" r="10"/><circle cx="1290" cy="700" r="12"/><circle cx="1260" cy="690" r="12"/><circle cx="1250" cy="720" r="14"/><circle cx="1280" cy="730" r="10"/><circle cx="1310" cy="720" r="12"/><circle cx="1340" cy="740" r="10"/><circle cx="1380" cy="740" r="8"/><circle cx="1410" cy="760" r="8"/><circle cx="1440" cy="740" r="8"/><circle cx="1410" cy="800" r="10"/><circle cx="1380" cy="790" r="8"/><circle cx="1340" cy="780" r="10"/><circle cx="1300" cy="770" r="14"/><circle cx="1270" cy="760" r="12"/><circle cx="1230" cy="760" r="12"/><circle cx="1200" cy="750" r="14"/><circle cx="1180" cy="720" r="12"/><circle cx="1150" cy="700" r="16"/><circle cx="1120" cy="680" r="14"/><circle cx="1090" cy="700" r="14"/><circle cx="1060" cy="720" r="16"/><circle cx="1030" cy="710" r="14"/><circle cx="1000" cy="700" r="16"/><circle cx="980" cy="670" r="18"/><circle cx="960" cy="700" r="14"/><circle cx="1000" cy="640" r="14"/><circle cx="1040" cy="650" r="14"/><circle cx="1070" cy="660" r="12"/><circle cx="1100" cy="650" r="10"/><circle cx="1150" cy="660" r="10"/><circle cx="1180" cy="690" r="10"/><circle cx="1210" cy="700" r="10"/><circle cx="1230" cy="670" r="12"/><circle cx="1240" cy="790" r="12"/><circle cx="1270" cy="800" r="10"/><circle cx="1310" cy="820" r="10"/><circle cx="1340" cy="810" r="8"/><circle cx="1280" cy="840" r="10"/><circle cx="1250" cy="830" r="12"/><circle cx="1210" cy="820" r="14"/><circle cx="1180" cy="800" r="12"/><circle cx="1150" cy="790" r="14"/><circle cx="1120" cy="780" r="10"/><circle cx="1090" cy="760" r="12"/><circle cx="1060" cy="770" r="12"/><circle cx="1040" cy="800" r="14"/><circle cx="1080" cy="810" r="12"/><circle cx="1110" cy="830" r="12"/><circle cx="1140" cy="850" r="10"/><circle cx="1170" cy="860" r="12"/><circle cx="1200" cy="870" r="10"/><circle cx="1230" cy="880" r="8"/><circle cx="1250" cy="860" r="8"/><circle cx="1130" cy="880" r="10"/><circle cx="1100" cy="900" r="10"/><circle cx="1080" cy="870" r="10"/><circle cx="1050" cy="860" r="8"/><circle cx="1020" cy="870" r="8"/><circle cx="1000" cy="900" r="8"/><circle cx="1020" cy="910" r="10"/><circle cx="1060" cy="900" r="8"/><circle cx="1090" cy="930" r="8"/><circle cx="1120" cy="910" r="8"/><circle cx="1160" cy="900" r="10"/><circle cx="1190" cy="910" r="8"/><circle cx="1220" cy="920" r="8"/><circle cx="980" cy="880" r="8"/><circle cx="960" cy="890" r="8"/><circle cx="940" cy="870" r="8"/><circle cx="970" cy="860" r="10"/><circle cx="950" cy="830" r="10"/><circle cx="920" cy="800" r="14"/><circle cx="890" cy="760" r="14"/><circle cx="870" cy="740" r="20"/><circle cx="930" cy="960" r="8"/><circle cx="920" cy="975" r="8"/><circle cx="955" cy="960" r="8"/><circle cx="1050" cy="990" r="7"/><circle cx="1040" cy="950" r="8"/><circle cx="1010" cy="930" r="8"/><circle cx="1180" cy="930" r="8"/><circle cx="1150" cy="940" r="8"/><circle cx="1080" cy="960" r="6"/><circle cx="1354" cy="771" r="8"/><circle cx="1387" cy="765" r="8"/><circle cx="1420" cy="810" r="6"/><circle cx="1440" cy="560" r="8"/><circle cx="1500" cy="520" r="8"/><circle cx="1530" cy="500" r="8"/><circle cx="950" cy="560" r="14"/><circle cx="960" cy="520" r="12"/><circle cx="930" cy="500" r="14"/><circle cx="940" cy="600" r="12"/><circle cx="970" cy="620" r="14"/><circle cx="920" cy="630" r="12"/><circle cx="1000" cy="540" r="20"/><circle cx="1010" cy="510" r="36"/><circle cx="960" cy="470" r="16"/><circle cx="880" cy="430" r="12"/><circle cx="850" cy="400" r="12"/><circle cx="960" cy="340" r="12"/><circle cx="1000" cy="350" r="10"/><circle cx="1080" cy="250" r="12"/><circle cx="1120" cy="260" r="8"/><circle cx="1060" cy="270" r="8"/><circle cx="1150" cy="225" r="8"/><circle cx="1190" cy="225" r="8"/><circle cx="1300" cy="290" r="8"/><circle cx="1370" cy="330" r="8"/><circle cx="1352" cy="352" r="8"/><circle cx="1520" cy="540" r="8"/><circle cx="1550" cy="490" r="6"/><circle cx="1497" cy="597" r="6"/>
</g>
<g id="minor-orange" class="o"><circle cx="928" cy="215" r="8"/></g>
</g>
<g id="nodes">
<g id="n-remote-sensing"><circle class="o" cx="809" cy="570" r="70"/><text class="lb" x="805" y="581" font-size="48" textLength="353" lengthAdjust="spacingAndGlyphs">remote sensing</text></g>
<g id="n-ecosystem-service"><circle class="g" cx="508" cy="715" r="56"/><text class="lb" x="511" y="718" font-size="36" textLength="304" lengthAdjust="spacingAndGlyphs">ecosystem service</text></g>
<g id="n-forest-management"><circle class="m" cx="982" cy="405" r="50"/><text class="lb" x="978" y="421" font-size="39" textLength="363" lengthAdjust="spacingAndGlyphs">forest management</text></g>
<g id="n-biomass"><circle class="m" cx="1000" cy="490" r="42"/><text class="lb" x="992" y="485" font-size="25.5" textLength="101" lengthAdjust="spacingAndGlyphs">biomass</text></g>
<g id="n-china"><circle class="g" cx="405" cy="822" r="38"/><text class="lb" x="406" y="833" font-size="31" textLength="78" lengthAdjust="spacingAndGlyphs">china</text></g>
<g id="n-land-use"><circle class="g" cx="414" cy="499" r="35"/><text class="lb" x="414" y="508" font-size="32" textLength="127" lengthAdjust="spacingAndGlyphs">land use</text></g>
<g id="n-deforestation"><circle class="c" cx="686" cy="183" r="34"/><text class="lb" x="681" y="189" font-size="29" textLength="181" lengthAdjust="spacingAndGlyphs">deforestation</text></g>
<g id="n-land-cover"><circle class="g" cx="524" cy="552" r="34"/><text class="lb" x="524" y="560" font-size="29" textLength="141" lengthAdjust="spacingAndGlyphs">land cover</text></g>
<g id="n-vegetation"><circle class="r" cx="785" cy="706" r="34"/><text class="lb" x="785" y="714" font-size="29" textLength="143" lengthAdjust="spacingAndGlyphs">vegetation</text></g>
<g id="n-productivity"><circle class="m" cx="895" cy="732" r="32"/><text class="lb" x="921" y="740" font-size="21" textLength="120" lengthAdjust="spacingAndGlyphs">productivity</text></g>
<g id="n-forest"><circle class="r" cx="572" cy="415" r="30"/><text class="lb" x="578" y="401" font-size="27" textLength="74" lengthAdjust="spacingAndGlyphs">forest</text></g>
<g id="n-biodiversity"><circle class="y" cx="706" cy="440" r="30"/><text class="lb" x="706" y="448" font-size="29.5" textLength="163" lengthAdjust="spacingAndGlyphs">biodiversity</text></g>
<g id="n-landsat"><circle class="p" cx="830" cy="486" r="30"/><text class="lb" x="828" y="498" font-size="28.5" textLength="99" lengthAdjust="spacingAndGlyphs">landsat</text></g>
<g id="n-conservation-of-natural-resour"><circle class="r" cx="325" cy="268" r="28"/><text class="lb" x="328" y="277" font-size="25" textLength="368" lengthAdjust="spacingAndGlyphs">conservation of natural resour</text></g>
<g id="n-environmental-protection"><circle class="g" cx="347" cy="337" r="28"/><text class="lb" x="347" y="344" font-size="26" textLength="328" lengthAdjust="spacingAndGlyphs">environmental protection</text></g>
<g id="n-ecosystem"><circle class="r" cx="301" cy="452" r="28"/><text class="lb" x="301" y="460" font-size="27" textLength="135" lengthAdjust="spacingAndGlyphs">ecosystem</text></g>
<g id="n-forest-cover"><circle class="y" cx="830" cy="228" r="26"/><text class="lb" x="830" y="235" font-size="27.5" textLength="152" lengthAdjust="spacingAndGlyphs">forest cover</text></g>
<g id="n-spatiotemporal-analysis"><circle class="g" cx="500" cy="656" r="26"/><text class="lb" x="500" y="663" font-size="24.5" textLength="289" lengthAdjust="spacingAndGlyphs">spatiotemporal analysis</text></g>
<g id="n-modis"><circle class="p" cx="721" cy="864" r="25"/><text class="lb" x="721" y="871" font-size="24.5" textLength="70" lengthAdjust="spacingAndGlyphs">modis</text></g>
<g id="n-ndvi"><circle class="p" cx="840" cy="860" r="25"/><text class="lb" x="836" y="868" font-size="27" textLength="50" lengthAdjust="spacingAndGlyphs">ndvi</text></g>
<g id="n-net-primary-production"><circle class="g" cx="586" cy="754" r="24"/><text class="lb" x="586" y="760" font-size="21" textLength="236" lengthAdjust="spacingAndGlyphs">net primary production</text></g>
<g id="n-dynamics"><circle class="g" cx="658" cy="508" r="22"/><text class="lb" x="658" y="514" font-size="20" textLength="89" lengthAdjust="spacingAndGlyphs">dynamics</text></g>
<g id="n-conservation"><circle class="r" cx="715" cy="318" r="20"/><text class="lb" x="715" y="325" font-size="25" textLength="154" lengthAdjust="spacingAndGlyphs">conservation</text></g>
<g id="n-agriculture"><circle class="g" cx="458" cy="437" r="20"/><text class="lb" x="458" y="444" font-size="24" textLength="123" lengthAdjust="spacingAndGlyphs">agriculture</text></g>
<g id="n-lidar"><circle class="m" cx="1263" cy="538" r="20"/><text class="lb" x="1263" y="546" font-size="27" textLength="57" lengthAdjust="spacingAndGlyphs">lidar</text></g>
<g id="n-urbanization"><circle class="g" cx="278" cy="616" r="20"/><text class="lb" x="278" y="623" font-size="24" textLength="145" lengthAdjust="spacingAndGlyphs">urbanization</text></g>
<g id="n-spatial-distribution"><circle class="g" cx="829" cy="804" r="20"/><text class="lb" x="829" y="810" font-size="23" textLength="215" lengthAdjust="spacingAndGlyphs">spatial distribution</text></g>
<g id="n-forecasting"><circle class="m" cx="1108" cy="527" r="18"/><text class="lb" x="1108" y="533" font-size="20" textLength="113" lengthAdjust="spacingAndGlyphs">forecasting</text></g>
<g id="n-estimation-method"><circle class="m" cx="1093" cy="561" r="18"/><text class="lb" x="1093" y="567" font-size="23" textLength="207" lengthAdjust="spacingAndGlyphs">estimation method</text></g>
<g id="n-algorithm"><circle class="m" cx="1087" cy="655" r="18"/><text class="lb" x="1087" y="661" font-size="23" textLength="105" lengthAdjust="spacingAndGlyphs">algorithm</text></g>
<g id="n-grassland"><circle class="g" cx="325" cy="779" r="18"/><text class="lb" x="325" y="786" font-size="24" textLength="110" lengthAdjust="spacingAndGlyphs">grassland</text></g>
<g id="n-classification"><circle class="m" cx="1013" cy="787" r="18"/><text class="lb" x="1013" y="793" font-size="23" textLength="137" lengthAdjust="spacingAndGlyphs">classification</text></g>
<g id="n-urban-planning"><circle class="g" cx="579" cy="793" r="18"/><text class="lb" x="579" y="799" font-size="22.5" textLength="164" lengthAdjust="spacingAndGlyphs">urban planning</text></g>
<g id="n-tropical-forest"><circle class="c" cx="868" cy="186" r="16"/><text class="lb" x="868" y="192" font-size="23" textLength="152" lengthAdjust="spacingAndGlyphs">tropical forest</text></g>
<g id="n-forest-resource"><circle class="m" cx="1005" cy="293" r="16"/><text class="lb" x="1005" y="299" font-size="20.5" textLength="156" lengthAdjust="spacingAndGlyphs">forest resource</text></g>
<g id="n-management"><circle class="r" cx="903" cy="345" r="16"/><text class="lb" x="903" y="351" font-size="21.5" textLength="134" lengthAdjust="spacingAndGlyphs">management</text></g>
<g id="n-aboveground-biomass"><circle class="m" cx="1096" cy="360" r="16"/><text class="lb" x="1096" y="367" font-size="24" textLength="241" lengthAdjust="spacingAndGlyphs">aboveground biomass</text></g>
<g id="n-radar"><circle class="m" cx="1250" cy="397" r="16"/><text class="lb" x="1250" y="403" font-size="22.5" textLength="58" lengthAdjust="spacingAndGlyphs">radar</text></g>
<g id="n-agricultural-land"><circle class="g" cx="292" cy="541" r="16"/><text class="lb" x="292" y="547" font-size="21" textLength="175" lengthAdjust="spacingAndGlyphs">agricultural land</text></g>
<g id="n-aerial-photography"><circle class="m" cx="1319" cy="586" r="16"/><text class="lb" x="1319" y="592" font-size="22" textLength="207" lengthAdjust="spacingAndGlyphs">aerial photography</text></g>
<g id="n-spatial-resolution"><circle class="m" cx="1124" cy="694" r="16"/><text class="lb" x="1124" y="700" font-size="21.5" textLength="187" lengthAdjust="spacingAndGlyphs">spatial resolution</text></g>
<g id="n-mangrove"><circle class="y" cx="604" cy="238" r="14"/><text class="lb" x="604" y="244" font-size="23" textLength="109" lengthAdjust="spacingAndGlyphs">mangrove</text></g>
<g id="n-asia"><circle class="r" cx="475" cy="396" r="14"/><text class="lb" x="475" y="402" font-size="22" textLength="43" lengthAdjust="spacingAndGlyphs">asia</text></g>
<g id="n-brazil"><circle class="y" cx="727" cy="386" r="14"/><text class="lb" x="727" y="392" font-size="21" textLength="55" lengthAdjust="spacingAndGlyphs">brazil</text></g>
<g id="n-airborne-laser-scanning"><circle class="m" cx="1422" cy="463" r="14"/><text class="lb" x="1422" y="469" font-size="22.5" textLength="254" lengthAdjust="spacingAndGlyphs">airborne laser scanning</text></g>
<g id="n-boreal-forest"><circle class="m" cx="1136" cy="601" r="14"/><text class="lb" x="1136" y="607" font-size="21" textLength="131" lengthAdjust="spacingAndGlyphs">boreal forest</text></g>
<g id="n-ecological-impact"><circle class="g" cx="521" cy="606" r="14"/><text class="lb" x="521" y="611" font-size="19" textLength="164" lengthAdjust="spacingAndGlyphs">ecological impact</text></g>
<g id="n-mapping-method"><circle class="y" cx="920" cy="652" r="14"/><text class="lb" x="920" y="658" font-size="22" textLength="175" lengthAdjust="spacingAndGlyphs">mapping method</text></g>
<g id="n-ecosystem-service-values"><circle class="g" cx="140" cy="662" r="14"/><text class="lb" x="140" y="668" font-size="21.5" textLength="255" lengthAdjust="spacingAndGlyphs">ecosystem service values</text></g>
<g id="n-decision-trees"><circle class="m" cx="1274" cy="769" r="14"/><text class="lb" x="1274" y="775" font-size="22" textLength="149" lengthAdjust="spacingAndGlyphs">decision trees</text></g>
<g id="n-ecosystem-service-value"><circle class="g" cx="145" cy="772" r="14"/><text class="lb" x="145" y="778" font-size="21.5" textLength="245" lengthAdjust="spacingAndGlyphs">ecosystem service value</text></g>
<g id="n-random-forests"><circle class="m" cx="1324" cy="808" r="14"/><text class="lb" x="1324" y="814" font-size="21.5" textLength="158" lengthAdjust="spacingAndGlyphs">random forests</text></g>
<g id="n-spectroscopy"><circle class="m" cx="1156" cy="833" r="14"/><text class="lb" x="1156" y="839" font-size="20.5" textLength="125" lengthAdjust="spacingAndGlyphs">spectroscopy</text></g>
<g id="n-lakes"><circle class="g" cx="488" cy="879" r="14"/><text class="lb" x="488" y="885" font-size="21" textLength="51" lengthAdjust="spacingAndGlyphs">lakes</text></g>
<g id="n-normalized-difference-vegetati"><circle class="p" cx="812" cy="932" r="14"/><text class="lb" x="812" y="938" font-size="21" textLength="310" lengthAdjust="spacingAndGlyphs">normalized difference vegetati</text></g>
<g id="n-viet-nam"><circle class="c" cx="708" cy="232" r="12"/><text class="lb" x="708" y="237" font-size="19" textLength="77" lengthAdjust="spacingAndGlyphs">viet nam</text></g>
<g id="n-sustainable-forestry"><circle class="c" cx="1057" cy="201" r="12"/><text class="lb" x="1057" y="207" font-size="20" textLength="189" lengthAdjust="spacingAndGlyphs">sustainable forestry</text></g>
<g id="n-tropics"><circle class="y" cx="851" cy="266" r="12"/><text class="lb" x="851" y="272" font-size="22" textLength="69" lengthAdjust="spacingAndGlyphs">tropics</text></g>
<g id="n-wood"><circle class="m" cx="1180" cy="456" r="12"/><text class="lb" x="1180" y="462" font-size="20" textLength="53" lengthAdjust="spacingAndGlyphs">wood</text></g>
<g id="n-habitat"><circle class="g" cx="535" cy="503" r="12"/><text class="lb" x="535" y="508" font-size="19" textLength="64" lengthAdjust="spacingAndGlyphs">habitat</text></g>
<g id="n-plantation-forestry"><circle class="m" cx="1290" cy="504" r="12"/><text class="lb" x="1290" y="509" font-size="18.5" textLength="176" lengthAdjust="spacingAndGlyphs">plantation forestry</text></g>
<g id="n-uncertainty"><circle class="y" cx="706" cy="645" r="12"/><text class="lb" x="706" y="650" font-size="19" textLength="107" lengthAdjust="spacingAndGlyphs">uncertainty</text></g>
<g id="n-water"><circle class="g" cx="317" cy="697" r="12"/><text class="lb" x="317" y="703" font-size="21" textLength="56" lengthAdjust="spacingAndGlyphs">water</text></g>
<g id="n-economic-development"><circle class="g" cx="194" cy="731" r="12"/><text class="lb" x="194" y="737" font-size="20.5" textLength="221" lengthAdjust="spacingAndGlyphs">economic development</text></g>
<g id="n-correlation"><circle class="r" cx="789" cy="768" r="12"/><text class="lb" x="789" y="773" font-size="19" textLength="102" lengthAdjust="spacingAndGlyphs">correlation</text></g>
<g id="n-runoff"><circle class="g" cx="606" cy="867" r="12"/><text class="lb" x="606" y="873" font-size="20" textLength="59" lengthAdjust="spacingAndGlyphs">runoff</text></g>
<g id="n-hexapoda"><circle class="m" cx="1132" cy="883" r="12"/><text class="lb" x="1132" y="889" font-size="20.5" textLength="94" lengthAdjust="spacingAndGlyphs">hexapoda</text></g>
<g id="n-water-resources"><circle class="g" cx="500" cy="949" r="12"/><text class="lb" x="500" y="954" font-size="19.5" textLength="151" lengthAdjust="spacingAndGlyphs">water resources</text></g>
<g id="n-soil-moisture"><circle class="p" cx="718" cy="978" r="12"/><text class="lb" x="718" y="983" font-size="19.5" textLength="123" lengthAdjust="spacingAndGlyphs">soil moisture</text></g>
<g id="n-world"><circle class="r" cx="845" cy="92" r="10"/><text class="lb" x="845" y="97" font-size="20" textLength="54" lengthAdjust="spacingAndGlyphs">world</text></g>
<g id="n-logging"><circle class="c" cx="980" cy="150" r="10"/><text class="lb" x="980" y="155" font-size="21" textLength="69" lengthAdjust="spacingAndGlyphs">logging</text></g>
<g id="n-finland"><circle class="m" cx="1280" cy="338" r="10"/><text class="lb" x="1280" y="344" font-size="20" textLength="65" lengthAdjust="spacingAndGlyphs">finland</text></g>
<g id="n-aves"><circle class="r" cx="665" cy="376" r="10"/><text class="lb" x="665" y="381" font-size="18.5" textLength="40" lengthAdjust="spacingAndGlyphs">aves</text></g>
<g id="n-human"><circle class="r" cx="263" cy="403" r="10"/><text class="lb" x="263" y="409" font-size="21" textLength="71" lengthAdjust="spacingAndGlyphs">human</text></g>
<g id="n-surface-analysis"><circle class="m" cx="1430" cy="391" r="10"/><text class="lb" x="1430" y="396" font-size="19" textLength="149" lengthAdjust="spacingAndGlyphs">surface analysis</text></g>
<g id="n-scanning"><circle class="m" cx="1426" cy="427" r="10"/><text class="lb" x="1426" y="433" font-size="20" textLength="85" lengthAdjust="spacingAndGlyphs">scanning</text></g>
<g id="n-ecosystem-restoration"><circle class="g" cx="234" cy="498" r="10"/><text class="lb" x="234" y="503" font-size="18" textLength="194" lengthAdjust="spacingAndGlyphs">ecosystem restoration</text></g>
<g id="n-airborne-survey"><circle class="m" cx="1442" cy="555" r="10"/><text class="lb" x="1442" y="560" font-size="18" textLength="137" lengthAdjust="spacingAndGlyphs">airborne survey</text></g>
<g id="n-mean-square-error"><circle class="m" cx="1377" cy="634" r="10"/><text class="lb" x="1377" y="640" font-size="21.5" textLength="202" lengthAdjust="spacingAndGlyphs">mean square error</text></g>
<g id="n-damage-detection"><circle class="m" cx="944" cy="692" r="10"/><text class="lb" x="944" y="697" font-size="19" textLength="156" lengthAdjust="spacingAndGlyphs">damage detection</text></g>
<g id="n-fuels"><circle class="m" cx="1124" cy="760" r="10"/><text class="lb" x="1124" y="765" font-size="18.5" textLength="41" lengthAdjust="spacingAndGlyphs">fuels</text></g>
<g id="n-valuation"><circle class="g" cx="150" cy="821" r="10"/><text class="lb" x="150" y="826" font-size="19.5" textLength="87" lengthAdjust="spacingAndGlyphs">valuation</text></g>
<g id="n-argentina"><circle class="p" cx="528" cy="829" r="10"/><text class="lb" x="528" y="834" font-size="18" textLength="83" lengthAdjust="spacingAndGlyphs">argentina</text></g>
<g id="n-jiangsu"><circle class="g" cx="304" cy="877" r="10"/><text class="lb" x="304" y="882" font-size="18.5" textLength="62" lengthAdjust="spacingAndGlyphs">jiangsu</text></g>
<g id="n-evapotranspiration"><circle class="p" cx="593" cy="1032" r="10"/><text class="lb" x="593" y="1038" font-size="20" textLength="180" lengthAdjust="spacingAndGlyphs">evapotranspiration</text></g>
<g id="n-palsar"><circle class="m" cx="1284" cy="232" r="10"/><text class="lb" x="1284" y="237" font-size="18" textLength="52" lengthAdjust="spacingAndGlyphs">palsar</text></g>
<g id="n-forest-degradation"><circle class="c" cx="996" cy="95" r="9"/><text class="lb" x="996" y="100" font-size="20" textLength="176" lengthAdjust="spacingAndGlyphs">forest degradation</text></g>
<g id="n-africa"><circle class="c" cx="669" cy="110" r="9"/><text class="lb" x="669" y="115" font-size="19" textLength="52" lengthAdjust="spacingAndGlyphs">africa</text></g>
<g id="n-stakeholder"><circle class="y" cx="753" cy="263" r="9"/><text class="lb" x="753" y="268" font-size="18.5" textLength="104" lengthAdjust="spacingAndGlyphs">stakeholder</text></g>
<g id="n-chemistry"><circle class="r" cx="360" cy="392" r="9"/><text class="lb" x="360" y="397" font-size="18.5" textLength="86" lengthAdjust="spacingAndGlyphs">chemistry</text></g>
<g id="n-laser-scanning"><circle class="m" cx="1414" cy="361" r="9"/><text class="lb" x="1414" y="366" font-size="18" textLength="126" lengthAdjust="spacingAndGlyphs">laser scanning</text></g>
<g id="n-sentinel"><circle class="m" cx="999" cy="617" r="9"/><text class="lb" x="999" y="622" font-size="18.5" textLength="69" lengthAdjust="spacingAndGlyphs">sentinel</text></g>
<g id="n-pinus-taeda"><circle class="m" cx="1234" cy="864" r="9"/><text class="lb" x="1234" y="869" font-size="18" textLength="103" lengthAdjust="spacingAndGlyphs">pinus taeda</text></g>
<g id="n-land-surface"><circle class="p" cx="877" cy="996" r="9"/><text class="lb" x="877" y="1001" font-size="18.5" textLength="108" lengthAdjust="spacingAndGlyphs">land surface</text></g>
<g id="n-surface-temperature"><circle class="p" cx="849" cy="1048" r="9"/><text class="lb" x="849" y="1053" font-size="18.5" textLength="181" lengthAdjust="spacingAndGlyphs">surface temperature</text></g>
<g id="n-land-surface-temperature"><circle class="p" cx="831" cy="1105" r="9"/><text class="lb" x="831" y="1110" font-size="18.5" textLength="225" lengthAdjust="spacingAndGlyphs">land surface temperature</text></g>
<g id="n-old-growth-forest"><circle class="c" cx="1107" cy="232" r="9"/><text class="lb" x="1107" y="237" font-size="17.5" textLength="153" lengthAdjust="spacingAndGlyphs">old-growth forest</text></g>
<g id="n-redd-plus"><circle class="c" cx="901" cy="48" r="8"/><text class="lb" x="901" y="53" font-size="19" textLength="52" lengthAdjust="spacingAndGlyphs">redd+</text></g>
<g id="n-redd"><circle class="c" cx="962" cy="50" r="8"/><text class="lb" x="962" y="55" font-size="19" textLength="41" lengthAdjust="spacingAndGlyphs">redd</text></g>
<g id="n-community-forestry"><circle class="y" cx="501" cy="63" r="8"/><text class="lb" x="501" y="68" font-size="19" textLength="173" lengthAdjust="spacingAndGlyphs">community forestry</text></g>
<g id="n-protected-areas"><circle class="r" cx="553" cy="108" r="8"/><text class="lb" x="553" y="113" font-size="20" textLength="149" lengthAdjust="spacingAndGlyphs">protected areas</text></g>
<g id="n-local-participation"><circle class="y" cx="808" cy="126" r="8"/><text class="lb" x="808" y="131" font-size="18" textLength="156" lengthAdjust="spacingAndGlyphs">local participation</text></g>
<g id="n-policy"><circle class="y" cx="415" cy="162" r="8"/><text class="lb" x="415" y="167" font-size="19" textLength="51" lengthAdjust="spacingAndGlyphs">policy</text></g>
<g id="n-nepal"><circle class="y" cx="454" cy="225" r="8"/><text class="lb" x="454" y="230" font-size="18" textLength="48" lengthAdjust="spacingAndGlyphs">nepal</text></g>
<g id="n-united-nations"><circle class="c" cx="968" cy="231" r="8"/><text class="lb" x="968" y="236" font-size="16.5" textLength="116" lengthAdjust="spacingAndGlyphs">united nations</text></g>
<g id="n-backscattering"><circle class="m" cx="1330" cy="291" r="8"/><text class="lb" x="1330" y="296" font-size="17.5" textLength="127" lengthAdjust="spacingAndGlyphs">backscattering</text></g>
<g id="n-cropland"><circle class="g" cx="99" cy="568" r="8"/><text class="lb" x="99" y="573" font-size="19" textLength="79" lengthAdjust="spacingAndGlyphs">cropland</text></g>
<g id="n-larix"><circle class="m" cx="1319" cy="547" r="8"/><text class="lb" x="1319" y="552" font-size="17" textLength="37" lengthAdjust="spacingAndGlyphs">larix</text></g>
<g id="n-norway"><circle class="m" cx="1185" cy="651" r="8"/><text class="lb" x="1185" y="656" font-size="18.5" textLength="65" lengthAdjust="spacingAndGlyphs">norway</text></g>
<g id="n-temperature-control"><circle class="m" cx="1455" cy="667" r="8"/><text class="lb" x="1455" y="672" font-size="18" textLength="178" lengthAdjust="spacingAndGlyphs">temperature control</text></g>
<g id="n-resolution"><circle class="m" cx="1272" cy="687" r="8"/><text class="lb" x="1272" y="692" font-size="17.5" textLength="88" lengthAdjust="spacingAndGlyphs">resolution</text></g>
<g id="n-nearest-neighbor-search"><circle class="m" cx="1453" cy="714" r="8"/><text class="lb" x="1453" y="719" font-size="18" textLength="213" lengthAdjust="spacingAndGlyphs">nearest neighbor search</text></g>
<g id="n-reflectance"><circle class="m" cx="1095" cy="730" r="8"/><text class="lb" x="1095" y="735" font-size="16.5" textLength="90" lengthAdjust="spacingAndGlyphs">reflectance</text></g>
<g id="n-north-carolina"><circle class="r" cx="931" cy="855" r="8"/><text class="lb" x="931" y="860" font-size="18" textLength="124" lengthAdjust="spacingAndGlyphs">north carolina</text></g>
<g id="n-climate-conditions"><circle class="r" cx="979" cy="886" r="8"/><text class="lb" x="979" y="891" font-size="18" textLength="161" lengthAdjust="spacingAndGlyphs">climate conditions</text></g>
<g id="n-climatology"><circle class="p" cx="591" cy="901" r="8"/><text class="lb" x="591" y="906" font-size="17.5" textLength="93" lengthAdjust="spacingAndGlyphs">climatology</text></g>
<g id="n-nei-monggol"><circle class="g" cx="325" cy="935" r="8"/><text class="lb" x="325" y="940" font-size="19" textLength="109" lengthAdjust="spacingAndGlyphs">nei monggol</text></g>
<g id="n-coleoptera"><circle class="m" cx="1188" cy="931" r="8"/><text class="lb" x="1188" y="936" font-size="18" textLength="93" lengthAdjust="spacingAndGlyphs">coleoptera</text></g>
<g id="n-arid-region"><circle class="g" cx="365" cy="972" r="8"/><text class="lb" x="365" y="977" font-size="18" textLength="95" lengthAdjust="spacingAndGlyphs">arid region</text></g>
<g id="n-sub-saharan-africa"><circle class="y" cx="716" cy="55" r="7"/><text class="lb" x="716" y="60" font-size="19" textLength="164" lengthAdjust="spacingAndGlyphs">sub-saharan africa</text></g>
<g id="n-rural-population"><circle class="r" cx="374" cy="110" r="7"/><text class="lb" x="374" y="115" font-size="18" textLength="143" lengthAdjust="spacingAndGlyphs">rural population</text></g>
<g id="n-aquaculture"><circle class="c" cx="312" cy="200" r="7"/><text class="lb" x="312" y="205" font-size="18" textLength="105" lengthAdjust="spacingAndGlyphs">aquaculture</text></g>
<g id="n-statistics"><circle class="y" cx="874" cy="306" r="7"/><text class="lb" x="874" y="311" font-size="17" textLength="70" lengthAdjust="spacingAndGlyphs">statistics</text></g>
<g id="n-als"><circle class="m" cx="1453" cy="507" r="7"/><text class="lb" x="1453" y="512" font-size="18" textLength="24" lengthAdjust="spacingAndGlyphs">als</text></g>
<g id="n-insect"><circle class="m" cx="1056" cy="846" r="7"/><text class="lb" x="1056" y="851" font-size="17.5" textLength="48" lengthAdjust="spacingAndGlyphs">insect</text></g>
<g id="n-karst"><circle class="g" cx="275" cy="907" r="7"/><text class="lb" x="275" y="912" font-size="18" textLength="43" lengthAdjust="spacingAndGlyphs">karst</text></g>
<g id="n-drought-stress"><circle class="m" cx="1014" cy="981" r="7"/><text class="lb" x="1014" y="986" font-size="17.5" textLength="117" lengthAdjust="spacingAndGlyphs">drought stress</text></g>
<g id="n-eastern-hemisphere"><circle class="r" cx="661" cy="20" r="6"/><text class="lb" x="661" y="25" font-size="19" textLength="176" lengthAdjust="spacingAndGlyphs">eastern hemisphere</text></g>
<g id="n-trends"><circle class="r" cx="175" cy="592" r="6"/><text class="lb" x="175" y="597" font-size="17" textLength="52" lengthAdjust="spacingAndGlyphs">trends</text></g>
<g id="n-lake"><circle class="g" cx="263" cy="827" r="6"/><text class="lb" x="263" y="832" font-size="17" textLength="33" lengthAdjust="spacingAndGlyphs">lake</text></g>
<g id="n-lake-water"><circle class="g" cx="455" cy="985" r="6"/><text class="lb" x="455" y="990" font-size="17" textLength="84" lengthAdjust="spacingAndGlyphs">lake water</text></g>
<g id="n-time"><circle class="r" cx="611" cy="135" r="5"/><text class="lb" x="611" y="140" font-size="17" textLength="38" lengthAdjust="spacingAndGlyphs">time</text></g>
</g>
</g>
</svg>
